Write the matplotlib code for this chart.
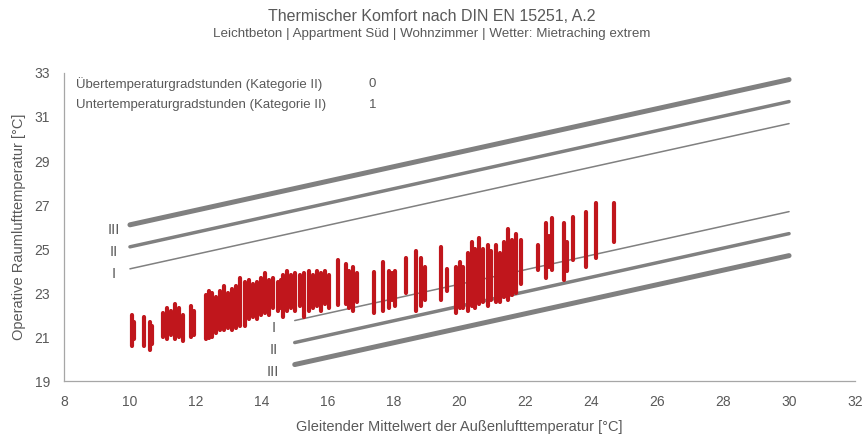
import matplotlib.pyplot as plt
import numpy as np

# Kategorie-Grenzlinien (Endpunkte, x = gleitender Mittelwert, y = operative Temperatur)
upper_x = [10, 30]
upper_I = [24.1, 30.7]
upper_II = [25.1, 31.7]
upper_III = [26.1, 32.7]
lower_x = [15, 30]
lower_I = [21.75, 26.7]
lower_II = [20.75, 25.7]
lower_III = [19.75, 24.7]

# Messwerte je Tag: gleitender Mittelwert, min / max der stündlichen Raumtemperatur
day_x = [10.05, 10.12, 10.42, 10.6, 10.66,
         11.0, 11.12, 11.25, 11.38, 11.5, 11.6, 11.85, 11.95,
         12.3, 12.4, 12.5, 12.62, 12.72, 12.85, 12.97, 13.1, 13.22, 13.35,
         13.48, 13.6, 13.72, 13.85, 13.97, 14.1, 14.22, 14.35, 14.5, 14.58,
         14.65, 14.77, 14.9, 15.02, 15.15, 15.28, 15.42, 15.55, 15.68, 15.8, 15.92, 16.05,
         16.3, 16.55, 16.65, 16.78, 16.9,
         17.42, 17.68, 17.85, 17.95, 18.05,
         18.38, 18.68, 18.82, 18.95, 19.45, 19.62,
         19.9, 20.0, 20.12, 20.25, 20.37, 20.48, 20.6, 20.72, 20.85, 20.97,
         21.1, 21.22, 21.35, 21.48, 21.6, 21.72, 21.88,
         22.38, 22.63, 22.72, 22.8, 23.17, 23.25, 23.45, 23.85, 24.15, 24.7]
day_low = [20.6, 20.9, 20.6, 20.4, 20.7,
           21.0, 20.9, 21.1, 20.9, 21.0, 20.8, 21.0, 21.1,
           20.9, 20.95, 21.0, 21.2, 21.3, 21.3, 21.4, 21.3, 21.4, 21.5,
           21.5, 21.8, 21.9, 21.8, 22.0, 22.1, 22.0, 22.3, 22.2, 22.3,
           21.9, 22.2, 22.3, 22.2, 22.4, 21.9, 22.2, 22.3, 22.4, 22.2, 22.5, 22.3,
           22.45, 22.5, 22.3, 22.2, 22.6,
           22.1, 22.2, 22.3, 22.7, 22.4,
           23.0, 22.2, 22.4, 22.7, 22.7, 23.1,
           22.1, 22.3, 22.3, 22.2, 22.4, 22.3, 22.5, 22.6, 22.4, 22.7,
           22.6, 22.6, 22.8, 22.7, 22.9, 23.0, 23.4,
           24.05, 23.7, 24.2, 24.05, 23.6, 24.0, 24.5, 24.2, 24.6, 25.3]
day_high = [22.0, 21.7, 21.9, 21.7, 21.5,
            22.1, 22.3, 22.2, 22.5, 22.3, 22.0, 22.4, 22.2,
            22.9, 23.1, 23.0, 22.8, 23.1, 23.3, 23.0, 23.2, 23.3, 23.7,
            23.5, 23.6, 23.4, 23.5, 23.7, 23.9, 23.6, 23.7, 23.5, 23.6,
            23.8, 24.0, 23.8, 23.9, 23.8, 23.9, 24.0, 23.8, 24.0, 23.9, 24.0, 23.8,
            24.5, 24.3, 24.0, 24.2, 23.9,
            23.95, 24.4, 24.0, 23.9, 24.0,
            24.6, 24.9, 24.6, 24.2, 25.1, 24.1,
            24.2, 24.4, 24.2, 24.8, 25.3, 25.0, 25.5, 25.0, 25.2, 24.9,
            25.2, 24.8, 25.3, 25.9, 25.4, 25.7, 25.4,
            25.2, 26.2, 25.6, 26.4, 26.2, 25.3, 26.45, 26.7, 27.1, 27.1]

x_ticks = np.arange(8, 33, 2)
y_ticks = np.arange(19, 34, 2)

plt.rcParams['font.family'] = ['Liberation Sans Narrow', 'Liberation Sans', 'DejaVu Sans']
text_col = '#595959'
line_col = '#808080'
red = '#c0161c'

fig = plt.figure(figsize=(8.63, 4.37), dpi=100)
ax = fig.add_axes([0.0742, 0.128, 0.9165, 0.705])

# Grenzlinien
ax.plot(upper_x, upper_III, color=line_col, lw=3.6, solid_capstyle='round', zorder=2)
ax.plot(upper_x, upper_II, color=line_col, lw=2.5, solid_capstyle='round', zorder=2)
ax.plot(upper_x, upper_I, color=line_col, lw=1.1, solid_capstyle='round', zorder=2)
ax.plot(lower_x, lower_I, color=line_col, lw=1.1, solid_capstyle='round', zorder=2)
ax.plot(lower_x, lower_II, color=line_col, lw=2.5, solid_capstyle='round', zorder=2)
ax.plot(lower_x, lower_III, color=line_col, lw=3.6, solid_capstyle='round', zorder=2)

# Messpunkte als Tagesspalten
ax.vlines(day_x, day_low, day_high, color=red, lw=3.0, capstyle='round', zorder=3)

# Kategorie-Beschriftungen
for lbl, yv in zip(['III', 'II', 'I'], [upper_III[0], upper_II[0], upper_I[0]]):
    ax.text(upper_x[0] - 0.5, yv - 0.25, lbl, ha='center', va='center', fontsize=10.5, color=text_col)
for lbl, yv in zip(['I', 'II', 'III'], [lower_I[0], lower_II[0], lower_III[0]]):
    ax.text(lower_x[0] - 0.65, yv - 0.35, lbl, ha='center', va='center', fontsize=10.5, color=text_col)

ax.text(8.35, 32.5, 'Übertemperaturgradstunden (Kategorie II)', fontsize=9.5, color=text_col, va='center')
ax.text(17.25, 32.5, '0', fontsize=9.5, color=text_col, va='center')
ax.text(8.35, 31.55, 'Untertemperaturgradstunden (Kategorie II)', fontsize=9.5, color=text_col, va='center')
ax.text(17.25, 31.55, '1', fontsize=9.5, color=text_col, va='center')

ax.set_xlim(8, 32)
ax.set_ylim(19, 33)
ax.set_xticks(x_ticks)
ax.set_yticks(y_ticks)
ax.tick_params(length=0, labelsize=10, labelcolor=text_col, pad=10)
for s in ['top', 'right']:
    ax.spines[s].set_visible(False)
for s in ['left', 'bottom']:
    ax.spines[s].set_color('#a6a6a6')
    ax.spines[s].set_linewidth(0.9)

ax.set_xlabel('Gleitender Mittelwert der Außenlufttemperatur [°C]', fontsize=10.5, color=text_col, labelpad=8)
ax.set_ylabel('Operative Raumlufttemperatur [°C]', fontsize=10.5, color=text_col, labelpad=6)

fig.text(0.5, 0.963, 'Thermischer Komfort nach DIN EN 15251, A.2', ha='center', va='center',
         fontsize=11.5, color=text_col)
fig.text(0.5, 0.922, 'Leichtbeton | Appartment Süd | Wohnzimmer | Wetter: Mietraching extrem',
         ha='center', va='center', fontsize=9.6, color=text_col)

fig.savefig('out.png', dpi=100)
